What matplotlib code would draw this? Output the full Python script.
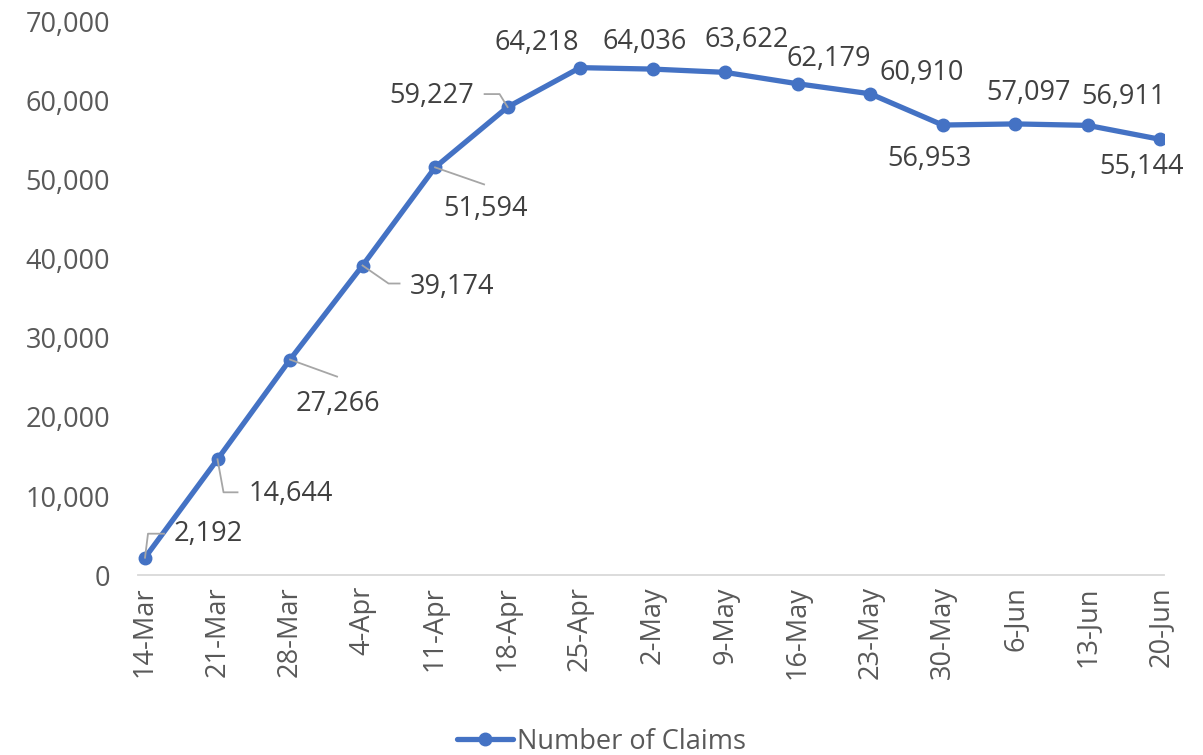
import matplotlib
matplotlib.use("Agg")
import matplotlib.pyplot as plt
from matplotlib.ticker import FuncFormatter
from matplotlib.lines import Line2D
from matplotlib.transforms import IdentityTransform

categories = ["14-Mar", "21-Mar", "28-Mar", "4-Apr", "11-Apr", "18-Apr", "25-Apr",
              "2-May", "9-May", "16-May", "23-May", "30-May", "6-Jun", "13-Jun", "20-Jun"]
claims = [2192, 14644, 27266, 39174, 51594, 59227, 64218, 64036, 63622,
          62179, 60910, 56953, 57097, 56911, 55144]
series_name = "Number of Claims"

# label offsets in pixels (dx, dy up) relative to each point
label_offsets = [(63, 24), (73, -35), (48, -44), (90, -21), (50, -42), (-76, 11),
                 (-43, 25), (-8, 27), (22, 32), (31, 25), (51, 21), (-13, -34),
                 (13, 31), (36, 28), (-19, -28)]
# leader line waypoints in pixels relative to the point
leader_paths = {
    0: [(0, 0), (3, 24), (19, 24)],
    1: [(0, 0), (6, -33), (20, -33)],
    2: [(0, 0), (47, -17)],
    3: [(0, 0), (26, -18), (37, -18)],
    4: [(0, 0), (49, -17)],
    5: [(0, 0), (-8, 13), (-23, 13)],
}

plt.rcParams['font.family'] = ['Open Sans', 'DejaVu Sans']
fig = plt.figure(figsize=(12.03, 7.55), dpi=100)
ax = fig.add_axes([0.1145, 0.2384, 0.853, 0.7325])

color = "#4472C4"
x = list(range(len(categories)))
ax.set_xlim(-0.1, 14.05)
ax.set_ylim(0, 70000)

for i, path in leader_paths.items():
    px, py = ax.transData.transform((x[i], claims[i]))
    xs = [px + dx for dx, dy in path]
    ys = [py + dy for dx, dy in path]
    fig.add_artist(Line2D(xs, ys, transform=IdentityTransform(), color='#A6A6A6',
                          lw=1.3, zorder=1))

ax.plot(x, claims, color=color, lw=3.8, marker='o', ms=9, label=series_name,
        solid_capstyle='round', zorder=3)

for i, (v, (dx, dy)) in enumerate(zip(claims, label_offsets)):
    ax.annotate(f"{v:,}", xy=(i, v), xytext=(dx, dy), textcoords='offset pixels',
                ha='center', va='center', fontsize=19.5, color='#404040', zorder=4)

ax.set_yticks(range(0, 70001, 10000))
ax.yaxis.set_major_formatter(FuncFormatter(lambda v, p: f"{int(v):,}"))
ax.set_xticks(x)
ax.set_xticklabels(categories, rotation=90)
ax.tick_params(axis='both', length=0, labelsize=19.5, labelcolor='#595959')
ax.tick_params(axis='y', pad=20)
ax.tick_params(axis='x', pad=8)
for s in ['top', 'right', 'left']:
    ax.spines[s].set_visible(False)
ax.spines['bottom'].set_color('#D9D9D9')
ax.spines['bottom'].set_linewidth(1.3)

leg = fig.legend(loc='lower center', bbox_to_anchor=(0.5, -0.033), frameon=False,
                 fontsize=19.5, handlelength=2.1, handletextpad=0.15)
for t in leg.get_texts():
    t.set_color('#595959')

fig.savefig("out.png", dpi=100)
